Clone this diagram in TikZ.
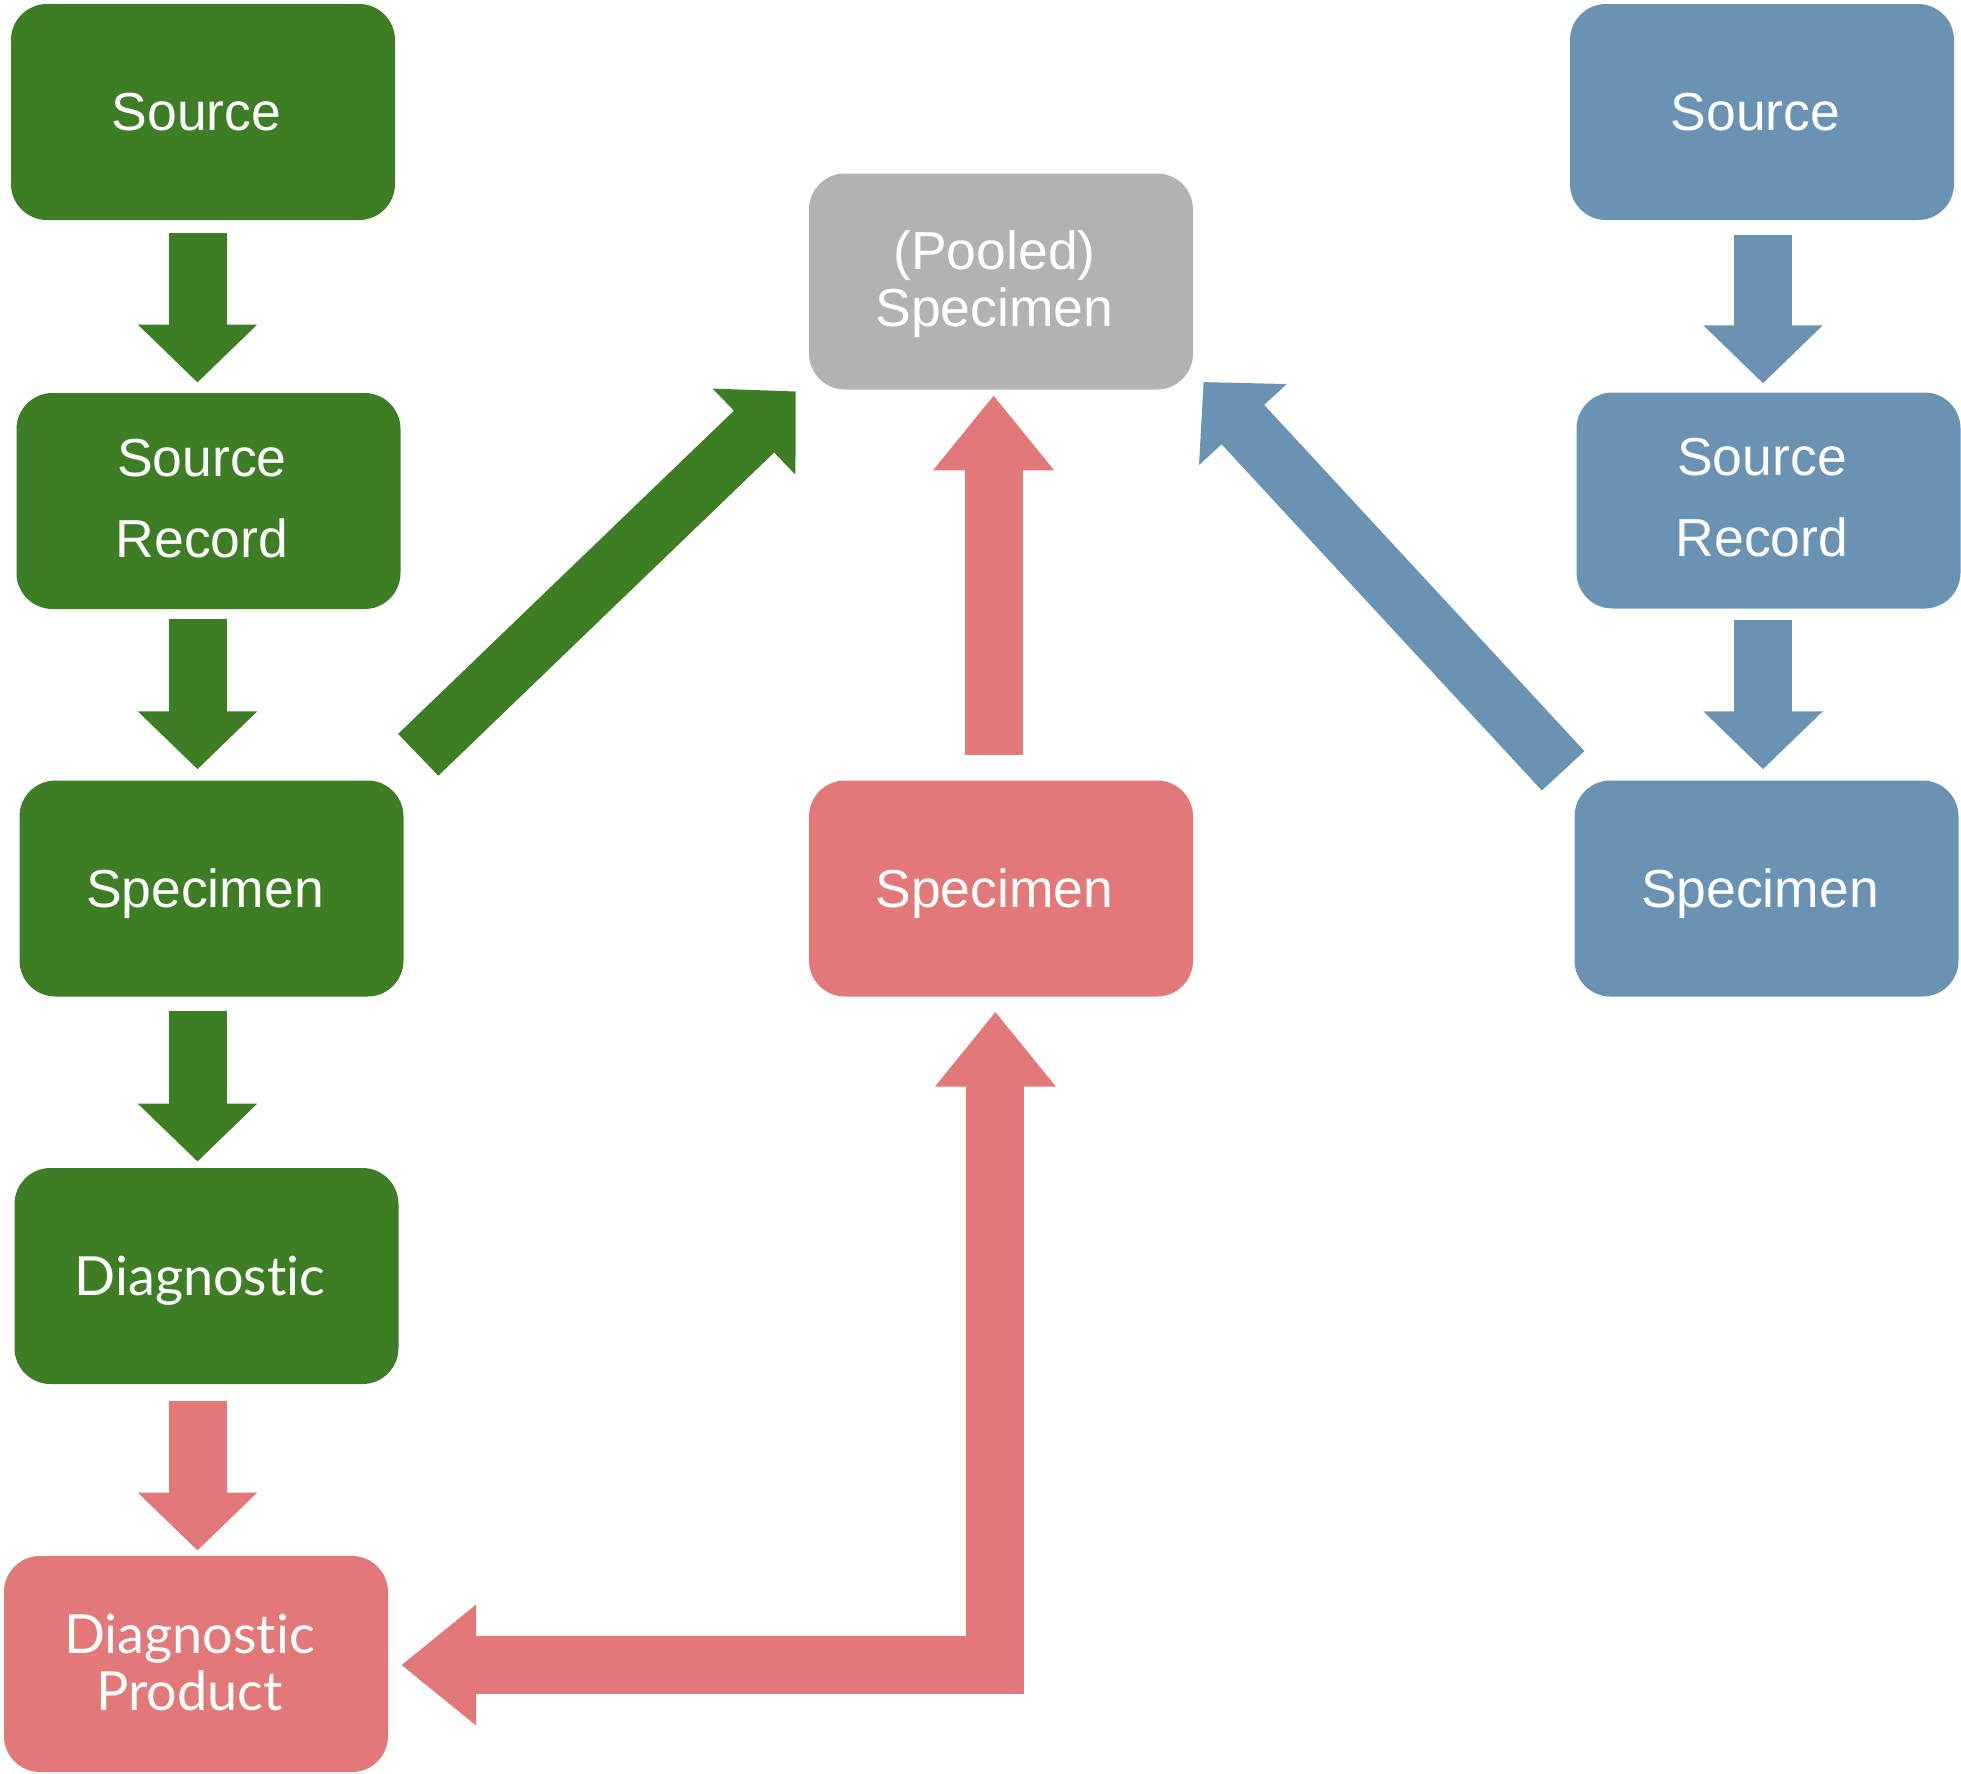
\documentclass[tikz,border=0pt]{standalone}
\usepackage{fontspec}
\setmainfont{Liberation Sans}
\newfontfamily\humanist[Ligatures={NoCommon,NoRequired,NoContextual}]{Lato}
\usetikzlibrary{arrows.meta,calc}

\definecolor{leafgreen}{HTML}{3D7D24}
\definecolor{salmon}{HTML}{E37878}
\definecolor{steel}{HTML}{6A93B3}
\definecolor{ash}{HTML}{B2B2B2}

\begin{document}
\begin{tikzpicture}[x=1pt,y=-1pt,
  box/.style={rounded corners=36pt, minimum width=384pt, minimum height=216pt, inner sep=0pt},
  txt/.style={text=white, align=center, inner sep=0pt, xshift=-6.5pt,
    font=\fontsize{53.5}{57}\selectfont},
  flat/.style={text depth=0pt},
  twoline/.style={font=\fontsize{53.5}{81}\selectfont, yshift=2.5pt},
  humtext/.style={font=\humanist\fontsize{54}{57}\selectfont},
  shortarrow/.style={line width=58pt, -{Triangle[width=116pt,length=58pt]}},
  longtip/.style={line width=58pt, -{Triangle[width=116pt,length=75pt]}},
  bothtips/.style={line width=58pt, line join=miter,
    {Triangle[width=116pt,length=75pt]}-{Triangle[width=116pt,length=75pt]}},
]
\useasboundingbox (0,0) rectangle (1961,1773);
\fill[white] (0,0) rectangle (1961,1773);

% left (green) chain
\node[box, fill=leafgreen, label={[txt]center:Source}] (gsrc) at (203,112) {};
\node[box, fill=leafgreen, label={[txt,twoline]center:{Source\\Record}}] (grec) at (208.5,501) {};
\node[box, fill=leafgreen, label={[txt,flat]center:Specimen}] (gspec) at (211.5,888.5) {};
\node[box, fill=leafgreen, label={[txt,humtext,flat]center:Diagnostic}] (gdiag) at (206.5,1276) {};
\node[box, fill=salmon, label={[txt,humtext,yshift=2pt]center:{Diagnostic\\Product}}] (rprod) at (196,1664) {};

% middle column
\node[box, fill=ash, label={[txt,yshift=-3pt]center:{(Pooled)\\Specimen}}] (pool) at (1001,281.5) {};
\node[box, fill=salmon, label={[txt,flat]center:Specimen}] (rspec) at (1001,888.5) {};

% right (blue) chain
\node[box, fill=steel, label={[txt]center:Source}] (bsrc) at (1762,112) {};
\node[box, fill=steel, label={[txt,twoline]center:{Source\\Record}}] (brec) at (1768.5,500.5) {};
\node[box, fill=steel, label={[txt,flat]center:Specimen}] (bspec) at (1766.5,888.5) {};

% arrow columns
\coordinate (gcol) at (197.5,0);
\coordinate (bcol) at (1763,0);
\coordinate (mcol) at (993.6,0);
\coordinate (bend) at (995.4,1665);

% vertical steps
\draw[shortarrow, leafgreen, shorten <=12.6pt, shorten >=10.3pt] (gsrc.south -| gcol) -- (grec.north -| gcol);
\draw[shortarrow, leafgreen, shorten <=10pt, shorten >=11pt] (grec.south -| gcol) -- (gspec.north -| gcol);
\draw[shortarrow, leafgreen, shorten <=14.7pt, shorten >=6.2pt] (gspec.south -| gcol) -- (gdiag.north -| gcol);
\draw[shortarrow, salmon, shorten <=16.7pt, shorten >=5.3pt] (gdiag.south -| gcol) -- (rprod.north -| gcol);
\draw[shortarrow, steel, shorten <=15pt, shorten >=9pt] (bsrc.south -| bcol) -- (brec.north -| bcol);
\draw[shortarrow, steel, shorten <=11pt, shorten >=11pt] (brec.south -| bcol) -- (bspec.north -| bcol);

% into the pooled specimen
\draw[longtip, salmon, shorten <=25.4pt, shorten >=5.6pt] (rspec.north -| mcol) -- (pool.south -| mcol);
\draw[shortarrow, leafgreen] ($(gspec.north east)+(14.5,-25.5)$) -- ($(pool.south west)+(-13,1.7)$);
\draw[shortarrow, steel] ($(bspec.north west)+(-11.2,-9.5)$) -- ($(pool.south east)+(10.3,-7.7)$);

% feedback between diagnostic product and specimen
\draw[bothtips, salmon, shorten <=13pt, shorten >=15pt] (rprod.east |- bend) -- (bend) -- (rspec.south -| bend);
\end{tikzpicture}
\end{document}
